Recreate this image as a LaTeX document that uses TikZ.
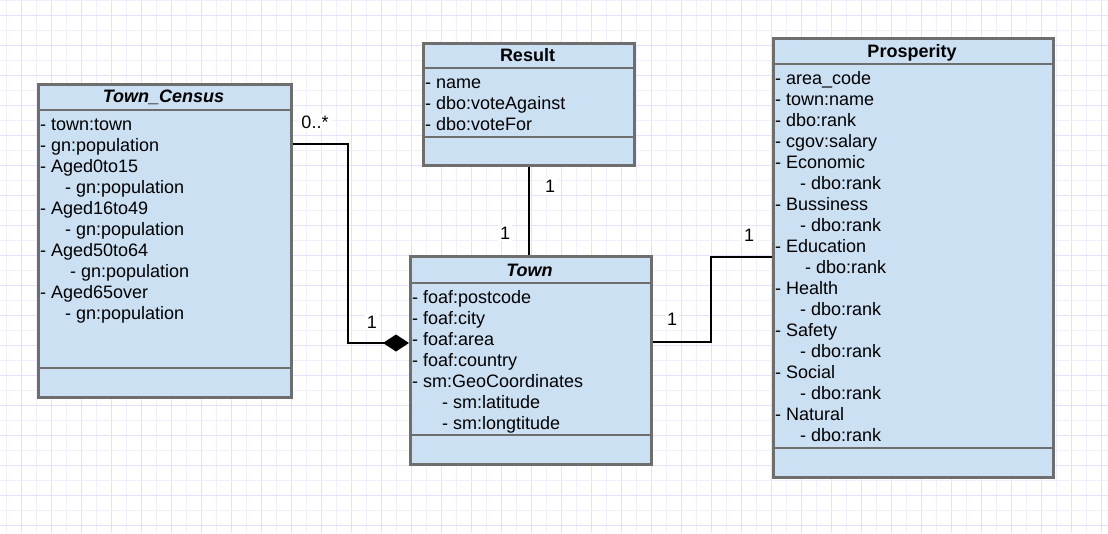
\documentclass[tikz,border=0pt]{standalone}
\usepackage{fontspec}
\setmainfont{Liberation Sans}
\usetikzlibrary{arrows.meta}
\definecolor{boxfill}{RGB}{204,224,244}
\definecolor{boxline}{RGB}{110,110,110}
\definecolor{gridlight}{RGB}{242,239,252}
\definecolor{griddark}{RGB}{230,224,250}
\tikzset{
  umlbox/.style={draw=boxline, line width=2.6pt, fill=boxfill, anchor=north west, inner sep=0pt},
  sepline/.style={draw=boxline, line width=2.6pt},
  attr/.style={anchor=base west, inner sep=0pt, font=\fontsize{18}{21}\selectfont},
  ttl/.style={anchor=base, inner sep=0pt, font=\fontsize{18}{21}\selectfont\bfseries},
  conn/.style={draw=black, line width=1.6pt},
  mult/.style={fill=white, inner sep=2pt, font=\fontsize{18}{21}\selectfont},
}
\begin{document}
\begin{tikzpicture}[x=1pt,y=-1pt]
\useasboundingbox (0,0) rectangle (1108,533);
\fill[white] (0,0) rectangle (1108,533);
% grid
\foreach \x in {6,36,...,1108} \draw[gridlight, line width=1pt] (\x,0) -- (\x,533);
\foreach \x in {21,51,...,1108} \draw[griddark, line width=1pt] (\x,0) -- (\x,533);
\foreach \y in {0,30,...,533} \draw[gridlight, line width=1pt] (0,\y) -- (1108,\y);
\foreach \y in {15,45,...,533} \draw[griddark, line width=1pt] (0,\y) -- (1108,\y);

% Town_Census
\node[umlbox, minimum width=253pt, minimum height=313pt] (tc) at (37,83) {};
\draw[sepline] (37,110) -- (290,110);
\draw[sepline] (37,368) -- (290,368);
\node[ttl, font=\fontsize{18}{21}\selectfont\bfseries\itshape] (tct) at (163.5,102) {Town\_Census};
\node[attr] (tc1) at (40,130) {- town:town};
\node[attr] (tc2) at (40,151) {- gn:population};
\node[attr] (tc3) at (40,172) {- Aged0to15};
\node[attr] (tc4) at (65,193) {- gn:population};
\node[attr] (tc5) at (40,214) {- Aged16to49};
\node[attr] (tc6) at (65,235) {- gn:population};
\node[attr] (tc7) at (40,256) {- Aged50to64};
\node[attr] (tc8) at (70,277) {- gn:population};
\node[attr] (tc9) at (40,298) {- Aged65over};
\node[attr] (tc10) at (65,319) {- gn:population};

% Result
\node[umlbox, minimum width=211pt, minimum height=122pt] (res) at (422,42) {};
\draw[sepline] (422,68) -- (633,68);
\draw[sepline] (422,137) -- (633,137);
\node[ttl] (rest) at (527.5,61) {Result};
\node[attr] (r1) at (425,88) {- name};
\node[attr] (r2) at (425,109) {- dbo:voteAgainst};
\node[attr] (r3) at (425,130) {- dbo:voteFor};

% Town
\node[umlbox, minimum width=241pt, minimum height=208pt] (town) at (409,255) {};
\draw[sepline] (409,283) -- (650,283);
\draw[sepline] (409,435) -- (650,435);
\node[ttl, font=\fontsize{18}{21}\selectfont\bfseries\itshape] (townt) at (529.5,276) {Town};
\node[attr] (t1) at (412,303) {- foaf:postcode};
\node[attr] (t2) at (412,324) {- foaf:city};
\node[attr] (t3) at (412,345) {- foaf:area};
\node[attr] (t4) at (412,366) {- foaf:country};
\node[attr] (t5) at (412,387) {- sm:GeoCoordinates};
\node[attr] (t6) at (442,408) {- sm:latitude};
\node[attr] (t7) at (442,429) {- sm:longtitude};

% Prosperity
\node[umlbox, minimum width=280pt, minimum height=439pt] (pr) at (772,37) {};
\draw[sepline] (772,64) -- (1052,64);
\draw[sepline] (772,448) -- (1052,448);
\node[ttl] (prt) at (912,57) {Prosperity};
\node[attr] (p1) at (775,84) {- area\_code};
\node[attr] (p2) at (775,105) {- town:name};
\node[attr] (p3) at (775,126) {- dbo:rank};
\node[attr] (p4) at (775,147) {- cgov:salary};
\node[attr] (p5) at (775,168) {- Economic};
\node[attr] (p6) at (800,189) {- dbo:rank};
\node[attr] (p7) at (775,210) {- Bussiness};
\node[attr] (p8) at (800,231) {- dbo:rank};
\node[attr] (p9) at (775,252) {- Education};
\node[attr] (p10) at (805,273) {- dbo:rank};
\node[attr] (p11) at (775,294) {- Health};
\node[attr] (p12) at (800,315) {- dbo:rank};
\node[attr] (p13) at (775,336) {- Safety};
\node[attr] (p14) at (800,357) {- dbo:rank};
\node[attr] (p15) at (775,378) {- Social};
\node[attr] (p16) at (800,399) {- dbo:rank};
\node[attr] (p17) at (775,420) {- Natural};
\node[attr] (p18) at (800,441) {- dbo:rank};

% connectors
\coordinate (b1) at (348,144);
\draw[conn, -{Diamond[length=26pt,width=17pt]}] (tc.north east |- b1) -- (b1) |- (town.west |- 0,343);
\draw[conn] (res.south) -- (res.south |- town.north);
\coordinate (b3) at (711,257);
\draw[conn] (town.east |- 0,342) -| (b3) -- (pr.west |- b3);

% multiplicities
\node[mult] (m1) at (315,122) {0..*};
\node[mult] (m2) at (372,322) {1};
\node[mult] (m3) at (550,186) {1};
\node[mult] (m4) at (505,233) {1};
\node[mult] (m5) at (672,319) {1};
\node[mult] (m6) at (749,235) {1};
\end{tikzpicture}
\end{document}
